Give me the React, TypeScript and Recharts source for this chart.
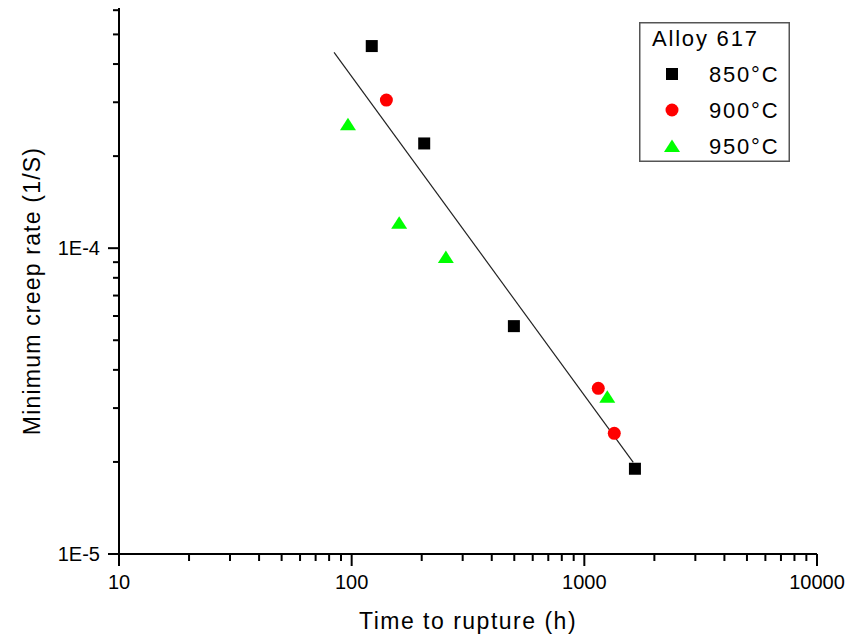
import React from 'react';
import { ScatterChart, Scatter, XAxis, YAxis, Legend } from 'recharts';

// ---- data ----
const T850 = [122, 205, 498, 1650];
const R850 = [4.58e-4, 2.2e-4, 5.56e-5, 1.9e-5];
const T900 = [141, 1148, 1345];
const R900 = [3.05e-4, 3.48e-5, 2.48e-5];
const T950 = [96.4, 160, 254, 1255];
const R950 = [2.54e-4, 1.21e-4, 9.35e-5, 3.27e-5];
const FIT_T = [84, 1623];
const FIT_R = [4.37e-4, 1.994e-5];

const SERIES_NAMES = ['850°C', '900°C', '950°C'];
const SERIES_COLORS = ['#000000', '#ff0000', '#00ff00'];
const SERIES_SHAPES = ['square', 'circle', 'triangle'];
const LEGEND_TITLE = 'Alloy 617';

const X_MAJOR = [10, 100, 1000, 10000];
const X_MAJOR_LABELS = ['10', '100', '1000', '10000'];
const X_MINOR = [20, 30, 40, 50, 60, 70, 80, 90, 200, 300, 400, 500, 600, 700, 800, 900, 2000, 3000, 4000, 5000, 6000, 7000, 8000, 9000];
const Y_MAJOR = [1e-5, 1e-4];
const Y_MAJOR_LABELS = ['1E-5', '1E-4'];
const Y_MINOR = [2e-5, 3e-5, 4e-5, 5e-5, 6e-5, 7e-5, 8e-5, 9e-5, 2e-4, 3e-4, 4e-4, 5e-4, 6e-4];

const X_TITLE = 'Time to rupture (h)';
const Y_TITLE = 'Minimum creep rate (1/S)';

const FONT = '"Liberation Sans", Arial, Helvetica, sans-serif';

const zip = (ts: number[], rs: number[]) => ts.map((t, i) => ({ t, r: rs[i] }));
const seriesData = [zip(T850, R850), zip(T900, R900), zip(T950, R950)];
const fitData = zip(FIT_T, FIT_R);

const X_TICKS = [...X_MAJOR, ...X_MINOR].sort((a, b) => a - b);
const Y_TICKS = [...Y_MAJOR, ...Y_MINOR].sort((a, b) => a - b);

function Marker({ kind, cx, cy, color }: { kind: string; cx: number; cy: number; color: string }) {
  if (kind === 'square') {
    return <rect x={cx - 6} y={cy - 6} width={12} height={12} fill={color} />;
  }
  if (kind === 'circle') {
    return <circle cx={cx} cy={cy} r={6.5} fill={color} />;
  }
  return <polygon points={`${cx},${cy - 6.5} ${cx + 8},${cy + 6} ${cx - 8},${cy + 6}`} fill={color} />;
}

const XTick = (props: any) => {
  const { x, y, payload } = props;
  const idx = X_MAJOR.indexOf(payload.value);
  const major = idx >= 0;
  return (
    <g>
      <line x1={x} x2={x} y1={y} y2={y + (major ? 12 : 7)} stroke="#000" strokeWidth={2} />
      {major && (
        <text x={x} y={y + 35} textAnchor="middle" fontSize={20} fontFamily={FONT} fill="#000">
          {X_MAJOR_LABELS[idx]}
        </text>
      )}
    </g>
  );
};

const YTick = (props: any) => {
  const { x, y, payload } = props;
  const idx = Y_MAJOR.findIndex((v) => Math.abs(v - payload.value) / v < 1e-6);
  const major = idx >= 0;
  return (
    <g>
      <line x1={x} x2={x - (major ? 11 : 6)} y1={y} y2={y} stroke="#000" strokeWidth={2} />
      {major && (
        <text x={x - 19} y={y + 7} textAnchor="end" fontSize={20} fontFamily={FONT} fill="#000">
          {Y_MAJOR_LABELS[idx]}
        </text>
      )}
    </g>
  );
};

const XTitle = (props: any) => {
  const vb = props.viewBox || {};
  return (
    <text
      x={vb.x + vb.width / 2}
      y={vb.y + 75}
      textAnchor="middle"
      fontSize={23}
      letterSpacing={1.5}
      fontFamily={FONT}
      fill="#000"
    >
      {X_TITLE}
    </text>
  );
};

const YTitle = (props: any) => {
  const vb = props.viewBox || {};
  const cx = 40;
  const cy = vb.y + vb.height / 2 + 10;
  return (
    <text
      x={cx}
      y={cy}
      transform={`rotate(-90, ${cx}, ${cy})`}
      textAnchor="middle"
      fontSize={23}
      letterSpacing={1.2}
      fontFamily={FONT}
      fill="#000"
    >
      {Y_TITLE}
    </text>
  );
};

const LegendBox = () => (
  <svg width={151} height={140} style={{ display: 'block' }}>
    <rect x={0.75} y={0.75} width={149.5} height={138.5} fill="#fff" stroke="#555" strokeWidth={1.5} />
    <text x={13} y={24} fontSize={22} letterSpacing={1.8} fontFamily={FONT} fill="#000">
      {LEGEND_TITLE}
    </text>
    {SERIES_NAMES.map((name, i) => (
      <g key={name}>
        <Marker kind={SERIES_SHAPES[i]} cx={33} cy={52 + i * 36} color={SERIES_COLORS[i]} />
        <text x={70} y={60 + i * 36} fontSize={22} letterSpacing={1.8} fontFamily={FONT} fill="#000">
          {name}
        </text>
      </g>
    ))}
  </svg>
);

const renderShape = (i: number) => (p: any) => (
  <Marker kind={SERIES_SHAPES[i]} cx={p.cx} cy={p.cy} color={SERIES_COLORS[i]} />
);

export default function App() {
  return (
    <div style={{ position: 'absolute', left: 0, top: 0, width: 849, height: 638, background: '#fff' }}>
      <ScatterChart width={849} height={638} margin={{ top: 8, right: 32, bottom: 0, left: 0 }}>
        <XAxis
          type="number"
          dataKey="t"
          scale="log"
          domain={[10, 10000]}
          allowDataOverflow
          ticks={X_TICKS}
          interval={0}
          tickSize={0}
          tickMargin={0}
          tickLine={false}
          tick={<XTick />}
          axisLine={{ stroke: '#000', strokeWidth: 2 }}
          height={84}
          label={{ content: <XTitle /> }}
        />
        <YAxis
          type="number"
          dataKey="r"
          scale="log"
          domain={[1e-5, 6.1e-4]}
          allowDataOverflow
          ticks={Y_TICKS}
          interval={0}
          tickSize={0}
          tickMargin={0}
          tickLine={false}
          tick={<YTick />}
          axisLine={{ stroke: '#000', strokeWidth: 2 }}
          width={119}
          label={{ content: <YTitle /> }}
        />
        <Scatter
          name="fit"
          data={fitData}
          line={{ stroke: '#222', strokeWidth: 1.2 }}
          shape={() => <g />}
          legendType="none"
          isAnimationActive={false}
        />
        {seriesData.map((d, i) => (
          <Scatter
            key={SERIES_NAMES[i]}
            name={SERIES_NAMES[i]}
            data={d}
            fill={SERIES_COLORS[i]}
            shape={renderShape(i)}
            isAnimationActive={false}
          />
        ))}
        <Legend
          layout="vertical"
          align="center"
          verticalAlign="middle"
          content={() => <LegendBox />}
          wrapperStyle={{ left: 639, top: 22, width: 151, height: 140 }}
        />
      </ScatterChart>
    </div>
  );
}
